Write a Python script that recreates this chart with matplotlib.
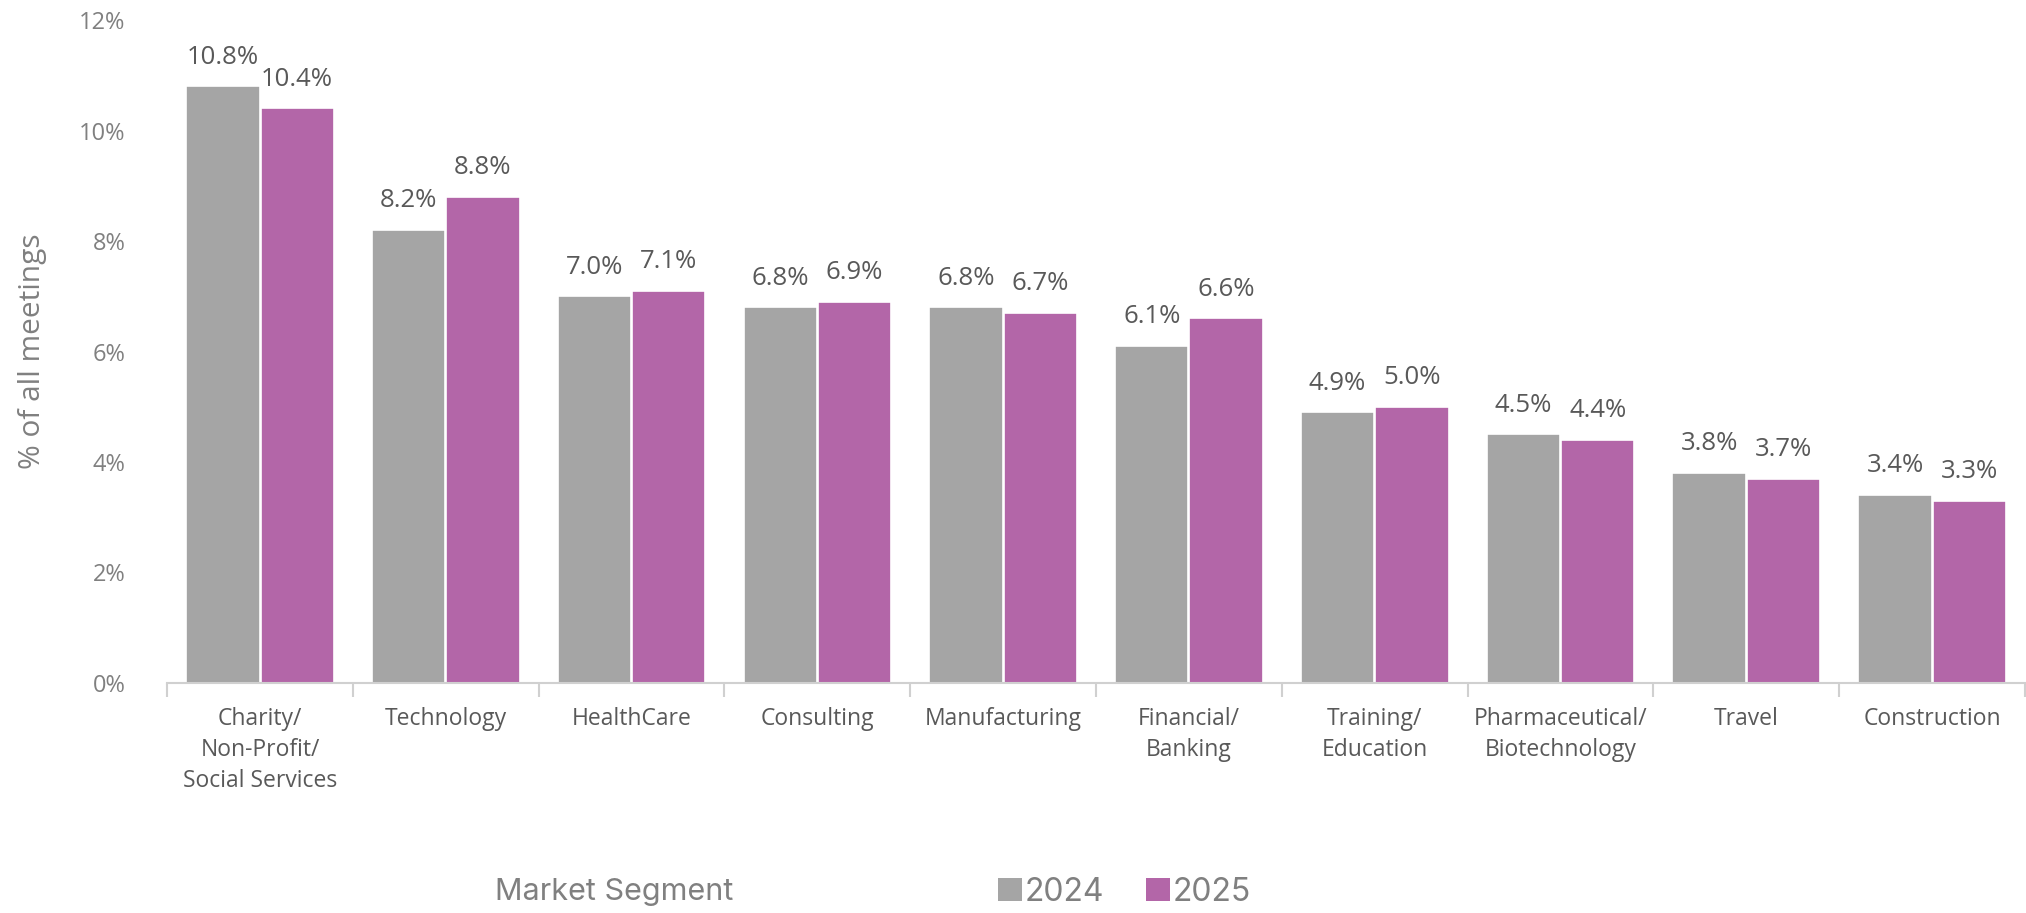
import matplotlib.pyplot as plt
import numpy as np
from matplotlib.patches import Patch

segments = ["Charity/\nNon-Profit/\nSocial Services", "Technology", "HealthCare",
            "Consulting", "Manufacturing", "Financial/\nBanking", "Training/\nEducation",
            "Pharmaceutical/\nBiotechnology", "Travel", "Construction"]
vals_2024 = [10.8, 8.2, 7.0, 6.8, 6.8, 6.1, 4.9, 4.5, 3.8, 3.4]
vals_2025 = [10.4, 8.8, 7.1, 6.9, 6.7, 6.6, 5.0, 4.4, 3.7, 3.3]
years = ["2024", "2025"]

c_gray = "#A5A5A5"
c_purple = "#B366A8"
txt = "#595959"
tick_c = "#808080"

plt.rcParams['font.family'] = ['Open Sans', 'DejaVu Sans']

fig = plt.figure(figsize=(20.26, 9.13), dpi=100)
ax = fig.add_axes([0.0825, 0.252, 0.917, 0.726])

x = np.arange(len(segments))
w = 0.395
b1 = ax.bar(x - 0.2, vals_2024, w, color=c_gray, edgecolor="white", linewidth=1.2)
b2 = ax.bar(x + 0.2, vals_2025, w, color=c_purple, edgecolor="white", linewidth=1.2)

# value labels above each bar
for bars in (b1, b2):
    ax.bar_label(bars, labels=["%.1f%%" % v for v in bars.datavalues],
                 padding=12, fontsize=18.5, color=txt)

ax.set_xlim(-0.5, len(segments) - 0.5)
ax.set_ylim(0, 12)
ax.set_yticks(np.arange(0, 13, 2))
ax.set_yticklabels(["%d%%" % v for v in range(0, 13, 2)], fontsize=17, color=tick_c)
ax.tick_params(axis="y", length=0, pad=30)

ax.set_xticks(x)
ax.set_xticklabels(segments, fontsize=16.5, color=txt, linespacing=1.4)
ax.tick_params(axis="x", length=0, pad=17)
ax.set_xticks(np.arange(-0.5, len(segments), 1), minor=True)
ax.tick_params(axis="x", which="minor", length=10, color="#D0D0D0", width=1.5)

for s in ["top", "right", "left"]:
    ax.spines[s].set_visible(False)
ax.spines["bottom"].set_color("#D0D0D0")
ax.spines["bottom"].set_linewidth(1.5)

fig.text(0.009, 0.615, "% of all meetings", rotation=90, ha="left", va="center",
         fontsize=21.5, color=tick_c)
fig.text(0.303, 0.023, "Market Segment", ha="center", va="center",
         fontsize=22, color=tick_c, family=["Inter", "DejaVu Sans"])

handles = [Patch(facecolor=c_gray), Patch(facecolor=c_purple)]
leg = fig.legend(handles, years, loc="center", bbox_to_anchor=(0.555, 0.023),
                 ncol=2, frameon=False, handlelength=0.75, handleheight=0.75,
                 handletextpad=0.1, columnspacing=1.3,
                 prop={"family": ["Inter", "DejaVu Sans"], "size": 23})
for t in leg.get_texts():
    t.set_color(tick_c)

fig.savefig("out.png", dpi=100)
